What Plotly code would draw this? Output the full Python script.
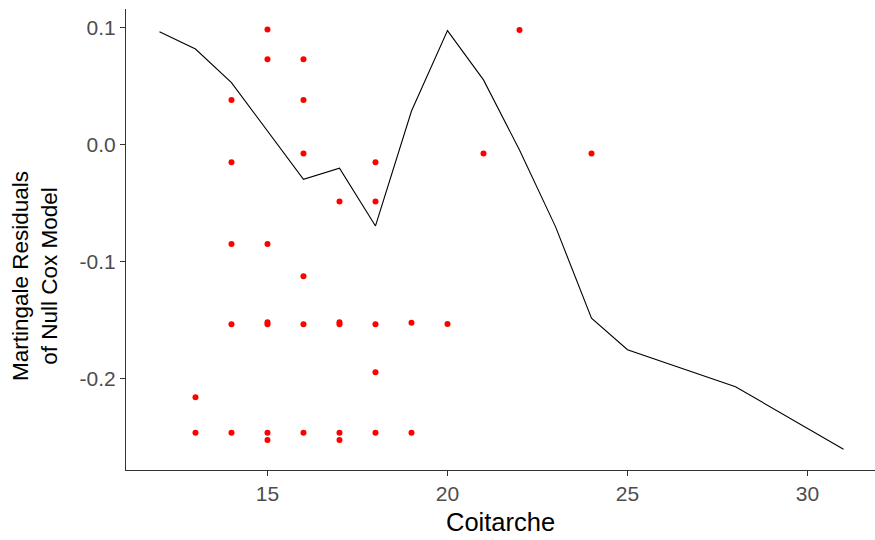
import plotly.graph_objects as go

# Scatter points (Coitarche vs martingale residuals)
pt_x = [13, 13,
        14, 14, 14, 14, 14,
        15, 15, 15, 15, 15, 15, 15,
        16, 16, 16, 16, 16, 16,
        17, 17, 17, 17, 17,
        18, 18, 18, 18, 18,
        19, 19,
        20, 21, 22, 24]
pt_y = [-0.2157, -0.2459,
        0.0385, -0.0148, -0.0846, -0.1533, -0.2459,
        0.0986, 0.0732, -0.0846, -0.1515, -0.1533, -0.2459, -0.2521,
        0.0732, 0.0385, -0.0074, -0.1122, -0.1533, -0.2459,
        -0.0484, -0.1515, -0.1533, -0.2459, -0.2521,
        -0.0148, -0.0484, -0.1533, -0.1943, -0.2459,
        -0.1519, -0.2459,
        -0.1530, -0.0074, 0.0983, -0.0074]

# Smooth line
ln_x = [12, 13, 14, 15, 16, 17, 18, 19, 20, 21, 22, 23, 24, 25, 28, 31]
ln_y = [0.0968, 0.0820, 0.0532, 0.0120, -0.0293, -0.0199, -0.0692, 0.0290,
        0.0977, 0.0556, -0.0043, -0.0698, -0.1480, -0.1750, -0.2066, -0.2600]

x_ticks = [15, 20, 25, 30]
y_ticks = [0.1, 0.0, -0.1, -0.2]
y_tick_text = ["0.1", "0.0", "-0.1", "-0.2"]

FONT = "Liberation Sans, Arial, sans-serif"

fig = go.Figure()
fig.add_trace(go.Scatter(x=pt_x, y=pt_y, mode="markers",
                         marker=dict(color="#FF0000", size=6, line=dict(width=0)),
                         showlegend=False))
fig.add_trace(go.Scatter(x=ln_x, y=ln_y, mode="lines",
                         line=dict(color="black", width=1.1),
                         showlegend=False))

W, H = 875, 540
L, R, T, B = 126, 0, 9, 70

fig.update_layout(
    width=W, height=H,
    margin=dict(l=L, r=R, t=T, b=B),
    paper_bgcolor="white", plot_bgcolor="white",
    font=dict(family=FONT, color="black"),
    xaxis=dict(range=[11.07, 31.875], tickvals=x_ticks,
               showgrid=False, zeroline=False,
               showline=True, linecolor="#333333", linewidth=1.2,
               ticks="outside", ticklen=5, tickcolor="#333333", tickwidth=1.1,
               tickfont=dict(size=21, color="#4D4D4D", family=FONT)),
    yaxis=dict(range=[-0.2778, 0.1162], tickvals=y_ticks, ticktext=y_tick_text,
               showgrid=False, zeroline=False,
               showline=True, linecolor="#333333", linewidth=1.2,
               ticks="outside", ticklen=5, tickcolor="#333333", tickwidth=1.1,
               tickfont=dict(size=21, color="#4D4D4D", family=FONT)),
    annotations=[
        dict(text="Coitarche", xref="paper", yref="paper",
             x=(500 - L) / (W - L - R), y=(H - 522 - B) / (H - T - B),
             xanchor="center", yanchor="middle",
             showarrow=False, font=dict(size=25.5, color="black", family=FONT)),
        dict(text="Martingale Residuals<br>of Null Cox Model", xref="paper", yref="paper",
             x=(35 - L) / (W - L - R), y=(H - 276 - B) / (H - T - B),
             xanchor="center", yanchor="middle", textangle=-90,
             showarrow=False, font=dict(size=22.5, color="black", family=FONT)),
    ],
)

fig.write_html("out.html", config={"displayModeBar": False},
               post_script="document.body.style.margin='0';document.body.style.overflow='hidden';")
